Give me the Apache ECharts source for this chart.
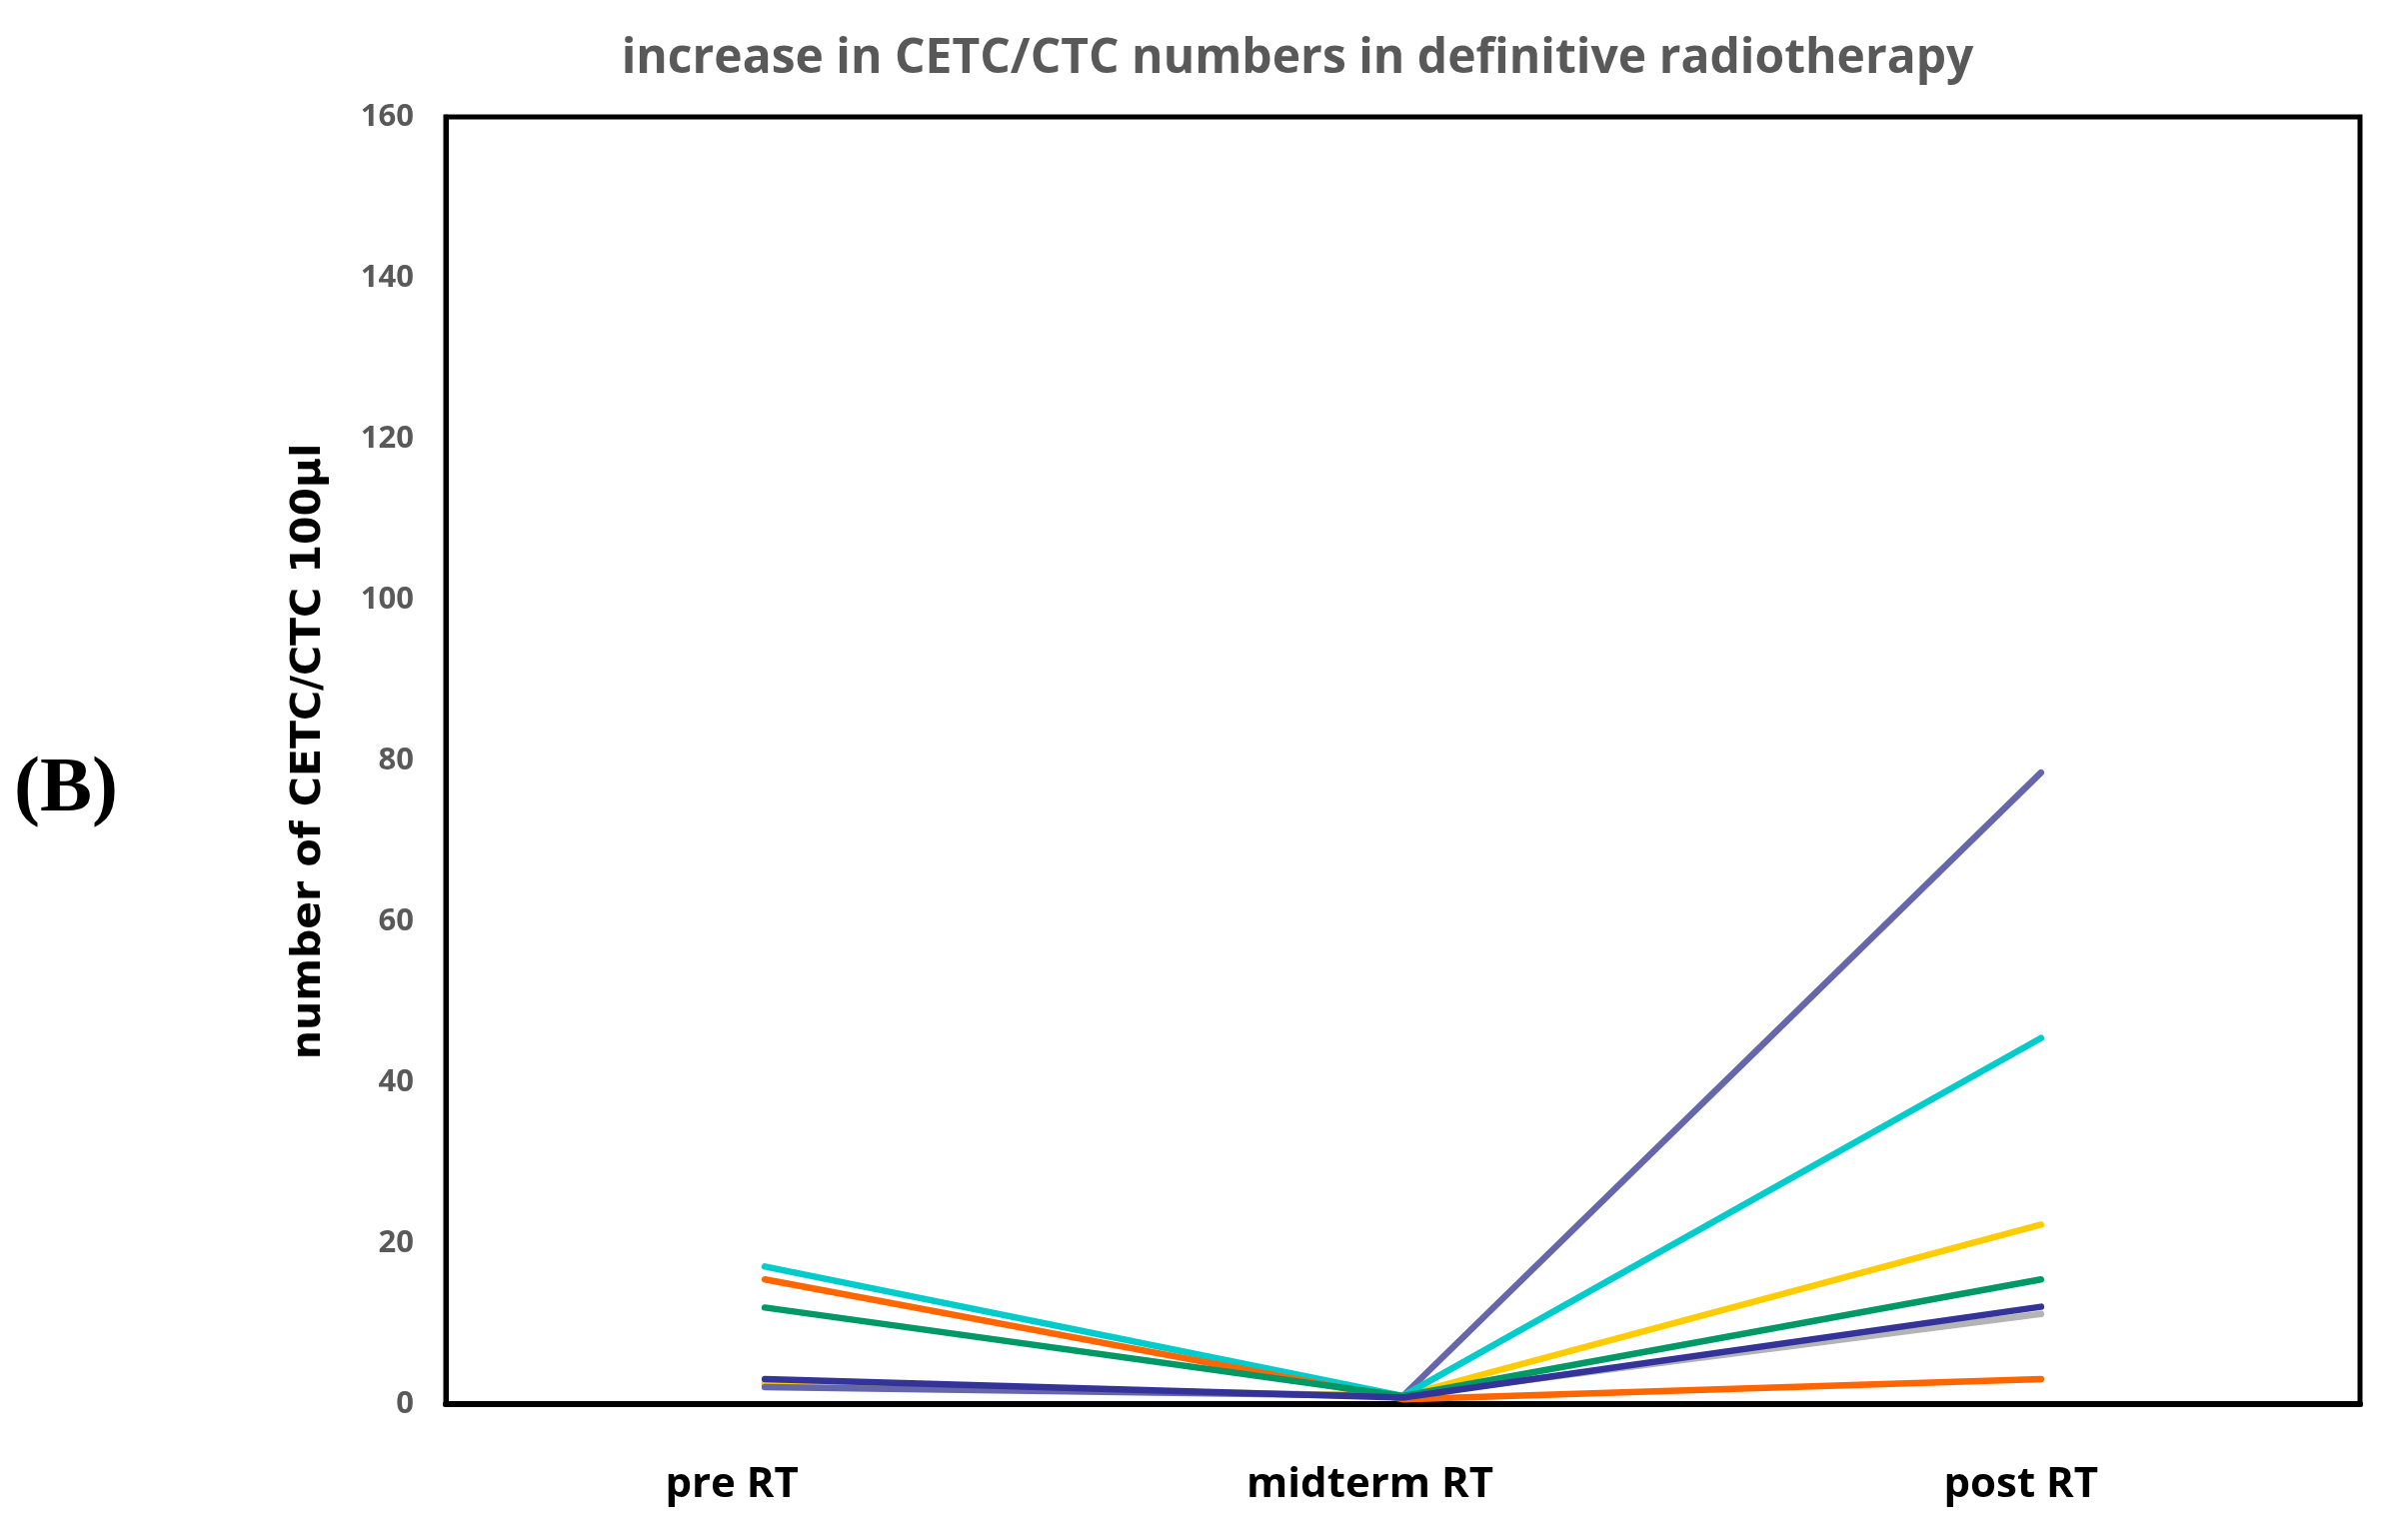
<!DOCTYPE html>
<html>
<head>
<meta charset="utf-8">
<script src="https://cdn.jsdelivr.net/npm/echarts@6/dist/echarts.min.js"></script>
<style>
html,body{margin:0;padding:0;background:#fff;}
#chart{width:2409px;height:1530px;}
</style>
</head>
<body>
<div id="chart"></div>
<script>
var categories = ['pre RT', 'midterm RT', 'post RT'];
var yTicks = [0, 20, 40, 60, 80, 100, 120, 140, 160];
var seriesGray = [2.5, 1, 11.2];
var seriesYellow = [2.5, 1, 22.3];
var seriesSlate = [2.1, 1, 78.5];
var seriesCyan = [17.1, 1, 45.5];
var seriesOrange = [15.5, 0.6, 3.1];
var seriesGreen = [12.0, 1, 15.5];
var seriesNavy = [3.1, 0.8, 12.1];

var names = ['gray', 'yellow', 'slate', 'cyan', 'orange', 'green', 'navy'];
var dataList = [seriesGray, seriesYellow, seriesSlate, seriesCyan, seriesOrange, seriesGreen, seriesNavy];
var colors = ['#B4B4B4', '#FFCC00', '#6667AB', '#00CCCC', '#FF6600', '#009966', '#333399'];
var labelShift = [66, 66, 40];

var chart = echarts.init(document.getElementById('chart'));
var series = dataList.map(function (d, i) {
  return {
    name: names[i],
    type: 'line',
    data: d,
    symbol: 'none',
    lineStyle: { color: colors[i], width: 6.5, cap: 'round' },
    itemStyle: { color: colors[i] },
    z: 2 + i
  };
});

var catData = categories.map(function (c, i) {
  return { value: c, textStyle: { padding: [0, labelShift[i], 0, 0] } };
});

chart.setOption({
  backgroundColor: '#ffffff',
  animation: false,
  title: {
    text: 'increase in CETC/CTC numbers in definitive radiotherapy',
    left: 1293,
    textAlign: 'center',
    top: 30,
    textStyle: {
      fontFamily: '"Open Sans", sans-serif',
      fontWeight: 'bold',
      fontSize: 48,
      color: '#595959'
    }
  },
  grid: {
    left: 446,
    right: 48,
    top: 117,
    bottom: 125,
    show: true,
    borderColor: '#000000',
    borderWidth: 5,
    backgroundColor: 'transparent'
  },
  xAxis: {
    type: 'category',
    data: catData,
    boundaryGap: true,
    axisLine: { show: true, lineStyle: { color: '#000000', width: 6 } },
    axisTick: { show: false },
    splitLine: { show: false },
    axisLabel: {
      margin: 60,
      fontFamily: '"Open Sans", sans-serif',
      fontWeight: 'bold',
      fontSize: 42,
      color: '#000000'
    }
  },
  yAxis: {
    type: 'value',
    min: 0,
    max: 160,
    interval: 20,
    name: 'number of CETC/CTC 100µl',
    nameLocation: 'middle',
    nameRotate: 90,
    nameGap: 116,
    nameTextStyle: {
      fontFamily: '"DejaVu Sans", sans-serif',
      fontWeight: 'bold',
      fontSize: 41,
      color: '#000000',
      padding: [0, 0, 0, 18]
    },
    axisLine: { show: true, lineStyle: { color: '#000000', width: 5 } },
    axisTick: { show: false },
    splitLine: { show: false },
    axisLabel: {
      margin: 32,
      fontFamily: '"Open Sans", sans-serif',
      fontWeight: 'bold',
      fontSize: 31,
      color: '#595959',
      formatter: function (v) { return yTicks.indexOf(v) >= 0 ? String(v) : ''; }
    }
  },
  graphic: [{
    type: 'text',
    left: 14,
    top: 752,
    style: {
      text: '(B)',
      fontFamily: '"Liberation Serif", "DejaVu Serif", serif',
      fontWeight: 'bold',
      fontSize: 78,
      fill: '#000000'
    }
  }],
  series: series
});
</script>
</body>
</html>
